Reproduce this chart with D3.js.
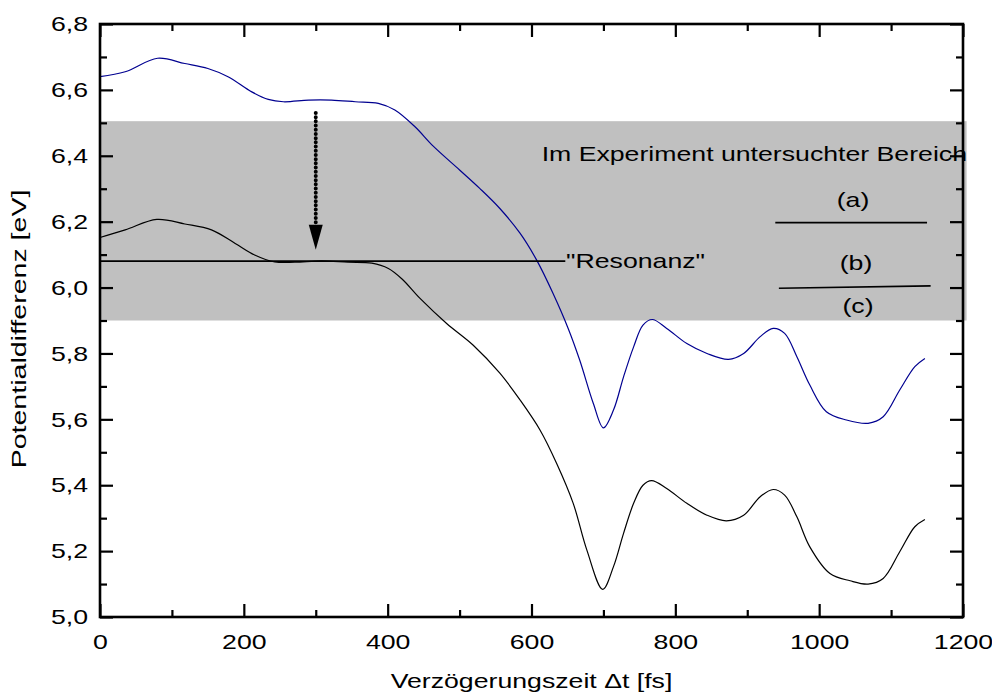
<!DOCTYPE html>
<html>
<head>
    <meta charset="utf-8">
    <title>Potentialdifferenz</title>
    <script src="https://d3js.org/d3.v7.min.js"></script>
    <style>
        body { margin: 0; background: #fff; }
        text { font-family: "Liberation Sans", Arial, sans-serif; fill: #000; }
    </style>
</head>
<body>
    <div id="chart"></div>

    <script>
        // data
        const blueT = [0, 35, 80, 118, 150, 178, 211, 234, 255, 290, 322, 355, 387, 410, 438, 463, 500, 528, 556, 584, 607, 630, 651, 667, 686, 700, 714, 728, 742, 755, 768, 788, 816, 844, 874, 895, 918, 936, 952, 969, 987, 1010, 1038, 1068, 1089, 1112, 1133, 1147];
        const blueV = [6.640, 6.655, 6.696, 6.680, 6.665, 6.640, 6.594, 6.571, 6.564, 6.569, 6.569, 6.564, 6.559, 6.539, 6.488, 6.430, 6.357, 6.301, 6.240, 6.165, 6.084, 5.982, 5.876, 5.780, 5.648, 5.574, 5.628, 5.729, 5.820, 5.886, 5.903, 5.876, 5.830, 5.800, 5.782, 5.800, 5.851, 5.876, 5.861, 5.790, 5.704, 5.623, 5.598, 5.588, 5.608, 5.689, 5.760, 5.785];

        const blackT = [0, 35, 79, 118, 155, 188, 215, 243, 271, 308, 345, 378, 401, 420, 445, 482, 519, 556, 584, 612, 635, 658, 677, 699, 714, 728, 742, 755, 767, 788, 816, 844, 871, 895, 918, 936, 952, 969, 987, 1015, 1043, 1068, 1089, 1112, 1133, 1147];
        const blackV = [6.152, 6.175, 6.207, 6.193, 6.175, 6.134, 6.099, 6.078, 6.077, 6.081, 6.077, 6.074, 6.058, 6.026, 5.967, 5.891, 5.825, 5.740, 5.659, 5.567, 5.466, 5.345, 5.203, 5.084, 5.153, 5.254, 5.345, 5.400, 5.414, 5.390, 5.345, 5.309, 5.292, 5.309, 5.365, 5.387, 5.370, 5.304, 5.213, 5.132, 5.110, 5.100, 5.117, 5.198, 5.274, 5.296];

        const xTicks = [0, 200, 400, 600, 800, 1000, 1200];
        const yTicks = [5.0, 5.2, 5.4, 5.6, 5.8, 6.0, 6.2, 6.4, 6.6, 6.8];

        // examined range (grey band), resonance line, arrow, marker lines
        const bandX = [0, 1205];
        const bandY = [5.9, 6.505];
        const resonanzX = [0, 647];
        const resonanzY = 6.08;
        const arrowX = 300;
        const arrowY = [6.53, 6.115];
        const markA = { x: [939, 1150], y: [6.197, 6.197] };
        const markB = { x: [944, 1155], y: [5.998, 6.005] };

        const width = 992, height = 697;
        const margin = { top: 24, right: 29, bottom: 80, left: 100 };
        const sx = 1.27; // text in the picture is stretched horizontally

        const svg = d3.select("#chart").append("svg")
            .attr("width", width)
            .attr("height", height);

        const x = d3.scaleLinear().domain([0, 1200]).range([margin.left, width - margin.right]);
        const y = d3.scaleLinear().domain([5.0, 6.8]).range([height - margin.bottom, margin.top]);

        // grey band
        svg.append("rect")
            .attr("x", x(bandX[0]))
            .attr("y", y(bandY[1]))
            .attr("width", x(bandX[1]) - x(bandX[0]))
            .attr("height", y(bandY[0]) - y(bandY[1]))
            .attr("fill", "#c0c0c0");

        // curves
        const line = d3.line()
            .x(d => x(d[0]))
            .y(d => y(d[1]))
            .curve(d3.curveCatmullRom.alpha(0.5));

        svg.append("path")
            .datum(blueT.map((t, i) => [t, blueV[i]]))
            .attr("d", line)
            .attr("fill", "none")
            .attr("stroke", "#000090")
            .attr("stroke-width", 1.2);

        svg.append("path")
            .datum(blackT.map((t, i) => [t, blackV[i]]))
            .attr("d", line)
            .attr("fill", "none")
            .attr("stroke", "#000")
            .attr("stroke-width", 1.2);

        // "Resonanz" line
        svg.append("line")
            .attr("x1", x(resonanzX[0])).attr("x2", x(resonanzX[1]))
            .attr("y1", y(resonanzY)).attr("y2", y(resonanzY))
            .attr("stroke", "#000").attr("stroke-width", 1.8);

        // marker lines next to (a) (b) (c)
        [markA, markB].forEach(m => {
            svg.append("line")
                .attr("x1", x(m.x[0])).attr("x2", x(m.x[1]))
                .attr("y1", y(m.y[0])).attr("y2", y(m.y[1]))
                .attr("stroke", "#000").attr("stroke-width", 1.6);
        });

        // dotted arrow
        const ax = x(arrowX);
        const headLen = 25, headW = 7;
        svg.append("line")
            .attr("x1", ax).attr("x2", ax)
            .attr("y1", y(arrowY[0])).attr("y2", y(arrowY[1]) - headLen - 2)
            .attr("stroke", "#000")
            .attr("stroke-width", 4)
            .attr("stroke-linecap", "round")
            .attr("stroke-dasharray", "0,4.2");
        const tipY = y(arrowY[1]);
        svg.append("path")
            .attr("d", `M${ax - headW},${tipY - headLen}L${ax + headW},${tipY - headLen}L${ax},${tipY}Z`)
            .attr("fill", "#000");

        // stretched text helper
        function label(tx, ty, str, anchor) {
            svg.append("text")
                .attr("transform", `translate(${tx},${ty}) scale(${sx},1)`)
                .attr("text-anchor", anchor)
                .style("font-size", "21px")
                .text(str);
        }

        label(967, 161, "Im Experiment untersuchter Bereich", "end");
        label(853, 207, "(a)", "middle");
        label(856, 270, "(b)", "middle");
        label(858, 313, "(c)", "middle");
        label(566, 268, "\"Resonanz\"", "start");

        // axes: ticks point inwards on all four sides
        const fmt = d3.format(".1f");
        const comma = d => fmt(d).replace(".", ",");
        const plotBottom = y(5.0), plotTop = y(6.8), plotLeft = x(0), plotRight = x(1200);

        function styleAxis(g) {
            g.select(".domain").remove();
            g.selectAll("line").attr("stroke", "#000").attr("stroke-width", 2.2);
        }

        // minor ticks
        [[d3.axisBottom(x), plotBottom], [d3.axisTop(x), plotTop]].forEach(([ax0, pos]) => {
            svg.append("g").attr("transform", `translate(0,${pos})`)
                .call(ax0.tickValues(d3.range(100, 1200, 200)).tickSize(-7).tickFormat(""))
                .call(styleAxis);
        });
        [[d3.axisLeft(y), plotLeft], [d3.axisRight(y), plotRight]].forEach(([ax0, pos]) => {
            svg.append("g").attr("transform", `translate(${pos},0)`)
                .call(ax0.tickValues(d3.range(5.1, 6.8, 0.2)).tickSize(-7).tickFormat(""))
                .call(styleAxis);
        });

        // major ticks
        const xAxis = svg.append("g").attr("transform", `translate(0,${plotBottom})`)
            .call(d3.axisBottom(x).tickValues(xTicks).tickSize(-13).tickPadding(17).tickFormat(d3.format("d")))
            .call(styleAxis);
        xAxis.selectAll("text")
            .attr("transform", `scale(${sx},1)`)
            .style("font-size", "21px")
            .attr("fill", "#000");

        svg.append("g").attr("transform", `translate(0,${plotTop})`)
            .call(d3.axisTop(x).tickValues(xTicks).tickSize(-13).tickFormat(""))
            .call(styleAxis);

        const yAxis = svg.append("g").attr("transform", `translate(${plotLeft},0)`)
            .call(d3.axisLeft(y).tickValues(yTicks).tickSize(-13).tickFormat(comma))
            .call(styleAxis);
        yAxis.selectAll("text")
            .attr("x", -12 / sx)
            .attr("transform", `scale(${sx},1)`)
            .style("font-size", "21px")
            .attr("fill", "#000");

        svg.append("g").attr("transform", `translate(${plotRight},0)`)
            .call(d3.axisRight(y).tickValues(yTicks).tickSize(-13).tickFormat(""))
            .call(styleAxis);

        // frame
        svg.append("rect")
            .attr("x", plotLeft).attr("y", plotTop)
            .attr("width", plotRight - plotLeft)
            .attr("height", plotBottom - plotTop)
            .attr("fill", "none")
            .attr("stroke", "#000")
            .attr("stroke-width", 2.6);

        // axis titles
        label((plotLeft + plotRight) / 2, 688, "Verzögerungszeit \u0394t [fs]", "middle");

        svg.append("text")
            .attr("transform", `translate(26,329) rotate(-90) scale(1.36,1)`)
            .attr("text-anchor", "middle")
            .style("font-size", "21px")
            .text("Potentialdifferenz [eV]");
    </script>
</body>
</html>
